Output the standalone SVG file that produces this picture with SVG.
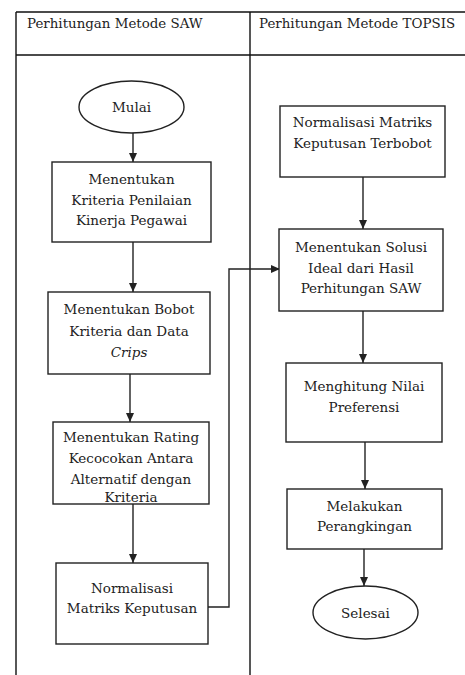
<svg xmlns="http://www.w3.org/2000/svg" width="465" height="675" viewBox="0 0 465 675">
<style>
text{font-family:"DejaVu Serif","Liberation Serif",serif;font-size:13.5px;fill:#222;text-anchor:middle}
.h{font-size:13.4px;text-anchor:start}
.b{fill:#fff;stroke:#222;stroke-width:1.4}
.t{stroke:#111;stroke-width:1.4;fill:none}
.c{stroke:#222;stroke-width:1.4;fill:none;marker-end:url(#a)}
</style>
<defs>
<marker id="a" markerWidth="10" markerHeight="10" refX="9" refY="5" orient="auto" markerUnits="userSpaceOnUse"><path d="M0,1 L9,5 L0,9 Z" fill="#222"/></marker>
</defs>
<rect width="465" height="675" fill="#fff"/>
<g id="table">
<path class="t" d="M16,12 H465 M16,55 H465 M16,12 V675 M250,12 V675"/>
<text class="h" x="27" y="28">Perhitungan Metode SAW</text>
<text class="h" x="259" y="28">Perhitungan Metode TOPSIS</text>
</g>
<g id="connectors">
<path class="c" d="M133,132 V162"/>
<path class="c" d="M133,242 V292"/>
<path class="c" d="M130,374 V422"/>
<path class="c" d="M133,504 V563"/>
<path class="c" d="M208,607 H229 V269 H280"/>
<path class="c" d="M363,177 V229"/>
<path class="c" d="M363,311 V363"/>
<path class="c" d="M365,442 V489"/>
<path class="c" d="M364,549 V586"/>
</g>
<g id="mulai"><ellipse class="b" cx="131.5" cy="107" rx="52.5" ry="26"/><text x="131.5" y="112">Mulai</text></g>
<g id="kriteria"><rect class="b" x="52" y="162" width="159" height="80"/><text x="131.5" y="184">Menentukan</text><text x="131.5" y="204.5">Kriteria Penilaian</text><text x="131.5" y="225">Kinerja Pegawai</text></g>
<g id="bobot"><rect class="b" x="48" y="292" width="162" height="82"/><text x="129" y="314">Menentukan Bobot</text><text x="129" y="336">Kriteria dan Data</text><text x="129" y="357" font-style="italic">Crips</text></g>
<g id="rating"><rect class="b" x="53" y="422" width="156" height="82"/><text x="131" y="442">Menentukan Rating</text><text x="131" y="463">Kecocokan Antara</text><text x="131" y="484">Alternatif dengan</text><text x="131" y="502">Kriteria</text></g>
<g id="normalisasi"><rect class="b" x="56" y="563" width="152" height="81"/><text x="132" y="593">Normalisasi</text><text x="132" y="613">Matriks Keputusan</text></g>
<g id="terbobot"><rect class="b" x="280" y="106" width="165" height="71"/><text x="362.5" y="127">Normalisasi Matriks</text><text x="362.5" y="148">Keputusan Terbobot</text></g>
<g id="solusi"><rect class="b" x="279" y="229" width="164" height="82"/><text x="361" y="252">Menentukan Solusi</text><text x="361" y="273">Ideal dari Hasil</text><text x="361" y="293">Perhitungan SAW</text></g>
<g id="preferensi"><rect class="b" x="286" y="363" width="156" height="79"/><text x="364" y="391">Menghitung Nilai</text><text x="364" y="412">Preferensi</text></g>
<g id="ranking"><rect class="b" x="287" y="489" width="155" height="60"/><text x="364.5" y="511">Melakukan</text><text x="364.5" y="531">Perangkingan</text></g>
<g id="selesai"><ellipse class="b" cx="365.5" cy="612.5" rx="52.5" ry="26.5"/><text x="365.5" y="618">Selesai</text></g>
</svg>
